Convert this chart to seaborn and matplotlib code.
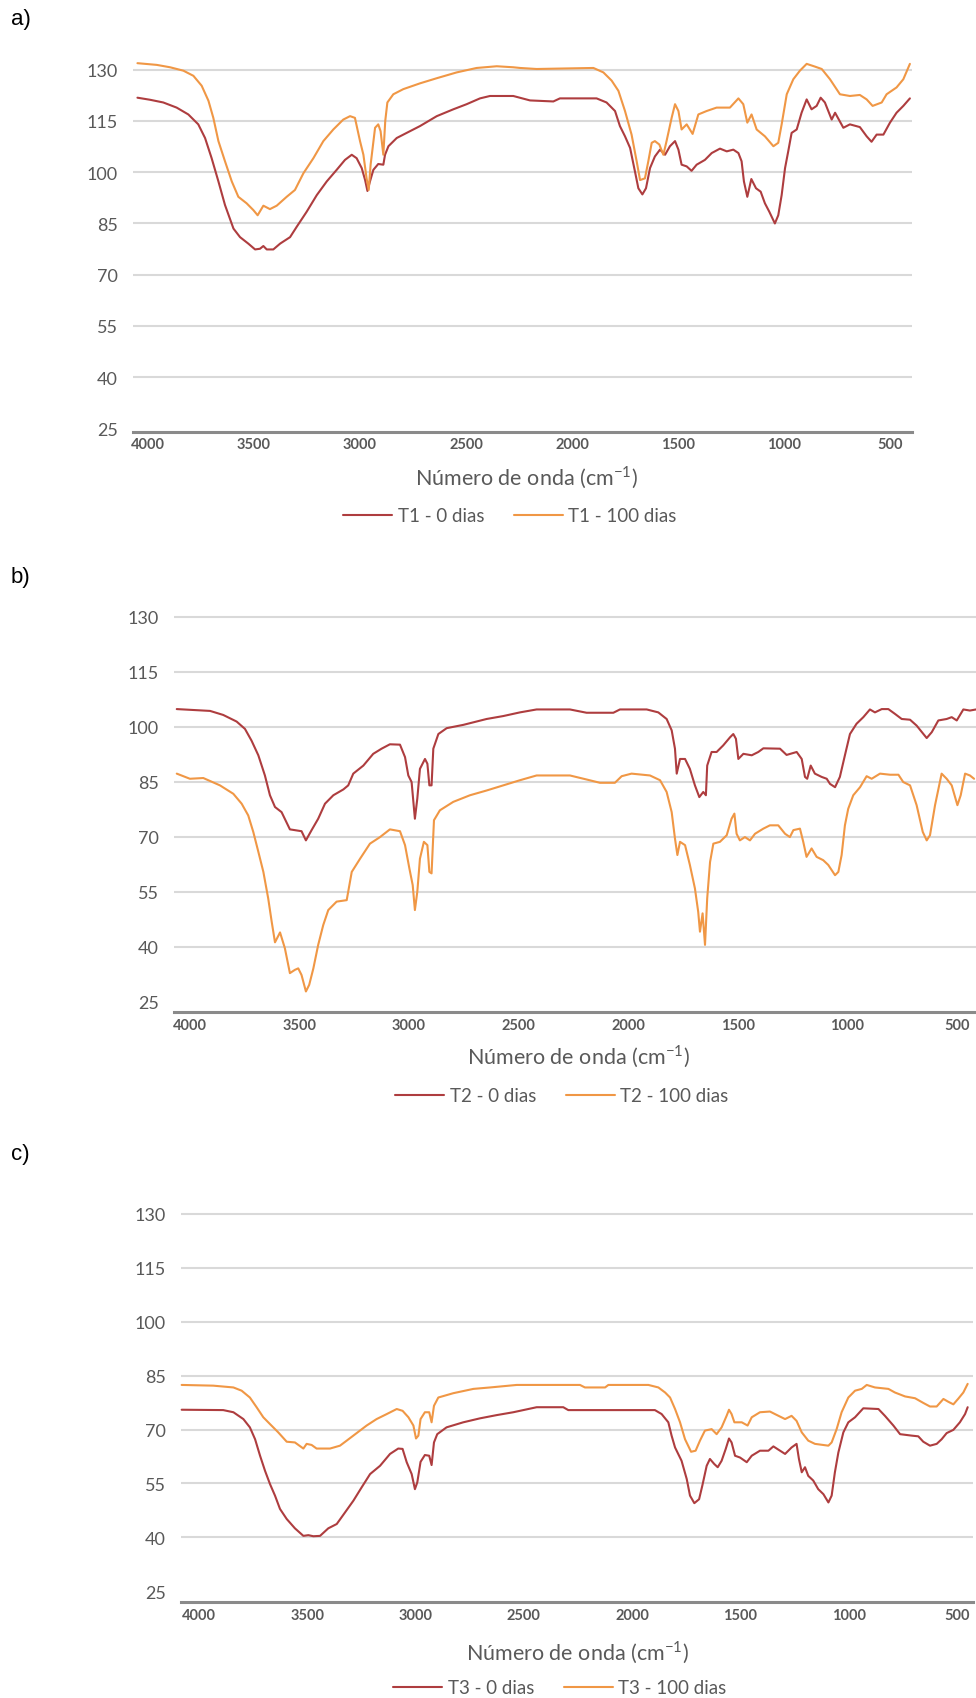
import numpy as np
import pandas as pd
import matplotlib
matplotlib.use("Agg")
import matplotlib.pyplot as plt
from matplotlib.ticker import MultipleLocator
import seaborn as sns

# ---------------- data ----------------
t1_0_x = [4050, 3991, 3928, 3865, 3810, 3763, 3731, 3700, 3668, 3637, 3597, 3566, 3527, 3495, 3472, 3456,
          3440, 3409, 3377, 3330, 3299, 3252, 3204, 3157, 3110, 3071, 3039, 3016, 2992, 2976, 2965, 2953,
          2937, 2914, 2890, 2882, 2866, 2827, 2780, 2717, 2638, 2560, 2497, 2434, 2387, 2277, 2198, 2088,
          2057, 1884, 1837, 1797, 1774, 1750, 1726, 1703, 1687, 1668, 1651, 1632, 1609, 1585, 1561, 1538,
          1514, 1498, 1483, 1459, 1436, 1412, 1373, 1341, 1302, 1270, 1239, 1215, 1200, 1189, 1173, 1154,
          1132, 1110, 1090, 1069, 1043, 1027, 1011, 995, 980, 964, 940, 917, 893, 870, 846, 827, 807, 775,
          759, 720, 689, 642, 610, 587, 563, 531, 500, 469, 437, 406]
t1_0_y = [121.8, 121.2, 120.4, 118.9, 116.9, 114.0, 110.0, 104.1, 97.3, 90.4, 83.5, 81.0, 79.1, 77.4, 77.6, 78.4,
          77.4, 77.4, 79.1, 81.0, 84.0, 88.4, 93.3, 97.3, 100.7, 103.6, 105.1, 104.1, 101.2, 97.7, 94.5, 97.3,
          100.7, 102.4, 102.2, 105.1, 107.6, 110.0, 111.5, 113.5, 116.4, 118.4, 119.9, 121.6, 122.3, 122.3, 121.0, 120.7,
          121.6, 121.6, 120.4, 117.9, 113.5, 110.5, 107.1, 100.2, 95.3, 93.5, 95.3, 101.2, 104.6, 106.6, 105.1, 107.6,
          109.1, 106.6, 102.2, 101.7, 100.4, 102.2, 103.6, 105.6, 106.9, 106.1, 106.6, 105.6, 103.2, 97.3, 92.8, 98.0,
          95.3, 94.3, 90.9, 88.4, 85.0, 87.4, 93.3, 101.2, 106.1, 111.5, 112.5, 117.4, 121.3, 118.4, 119.4, 121.8, 120.4, 115.4,
          117.4, 113.0, 114.0, 113.2, 110.5, 108.9, 111.0, 111.0, 114.5, 117.4, 119.4, 121.6]

t1_100_x = [4050, 3959, 3896, 3833, 3786, 3747, 3715, 3692, 3668, 3637, 3605, 3574, 3535, 3503, 3483, 3456,
            3425, 3393, 3346, 3307, 3267, 3220, 3173, 3126, 3079, 3047, 3024, 3000, 2984, 2969, 2959, 2950,
            2929, 2914, 2903, 2890, 2881, 2871, 2843, 2796, 2717, 2638, 2544, 2450, 2355, 2277, 2245, 2167,
            1899, 1852, 1813, 1781, 1750, 1719, 1695, 1679, 1656, 1640, 1624, 1609, 1588, 1569, 1554, 1530,
            1514, 1498, 1483, 1459, 1431, 1404, 1365, 1318, 1255, 1215, 1192, 1173, 1153, 1129, 1090, 1050,
            1027, 1011, 987, 956, 925, 893, 854, 822, 783, 736, 689, 642, 610, 582, 539, 516, 469, 437, 406]
t1_100_y = [131.9, 131.4, 130.7, 129.7, 128.2, 125.3, 120.9, 115.9, 109.1, 103.2, 97.3, 92.8, 90.9, 88.9, 87.4, 90.2,
            89.2, 90.2, 92.8, 94.8, 99.7, 104.1, 109.1, 112.5, 115.4, 116.4, 115.9, 109.1, 105.1, 98.2, 94.8, 102.2,
            113.0, 114.0, 112.0, 105.1, 115.0, 120.4, 122.8, 124.3, 126.0, 127.5, 129.2, 130.5, 131.0, 130.7, 130.5, 130.2,
            130.5, 129.2, 126.8, 123.8, 117.9, 111.0, 103.2, 97.7, 98.2, 103.2, 108.6, 109.1, 108.1, 105.1, 109.1, 115.9,
            119.9, 117.9, 112.5, 114.0, 111.2, 116.9, 117.9, 118.9, 118.9, 121.6, 119.9, 114.5, 116.9, 112.5, 110.5, 107.6,
            108.6, 114.0, 122.8, 127.2, 129.7, 131.7, 130.9, 130.2, 127.2, 122.8, 122.3, 122.6, 121.3, 119.4, 120.4, 122.8, 124.8, 127.2, 131.7]

t2_0_x = [4058, 3906, 3846, 3785, 3747, 3717, 3686, 3656, 3633, 3610, 3580, 3542, 3489, 3469, 3443, 3413,
          3382, 3344, 3298, 3276, 3253, 3207, 3162, 3124, 3086, 3040, 3017, 3002, 2987, 2972, 2961, 2949,
          2926, 2915, 2906, 2896, 2888, 2865, 2827, 2751, 2645, 2569, 2493, 2417, 2265, 2189, 2067, 2037,
          1915, 1862, 1824, 1801, 1786, 1778, 1763, 1740, 1718, 1695, 1675, 1657, 1645, 1639, 1619, 1596,
          1566, 1535, 1520, 1508, 1497, 1474, 1436, 1406, 1383, 1307, 1277, 1231, 1208, 1193, 1183, 1167,
          1148, 1117, 1094, 1079, 1056, 1034, 1011, 988, 958, 927, 897, 874, 843, 813, 783, 752, 714, 684,
          653, 638, 615, 585, 547, 524, 501, 471, 441, 413]
t2_0_y = [104.8, 104.3, 103.2, 101.4, 99.4, 96.2, 92.2, 86.7, 81.3, 78.1, 76.7, 72.0, 71.5, 69.0, 71.8, 74.9,
          79.0, 81.3, 82.9, 84.0, 87.2, 89.4, 92.6, 94.0, 95.2, 95.1, 91.7, 86.7, 84.9, 74.9, 80.4, 88.5,
          91.2, 89.9, 84.0, 84.0, 94.0, 98.0, 99.6, 100.5, 102.1, 102.9, 103.9, 104.7, 104.7, 103.8, 103.8, 104.7,
          104.7, 103.9, 102.1, 99.0, 94.0, 87.2, 91.2, 91.2, 88.5, 84.0, 80.8, 82.2, 81.3, 89.4, 93.1, 93.1,
          94.9, 97.1, 98.0, 96.7, 91.2, 92.6, 92.2, 93.1, 94.1, 94.0, 92.3, 93.1, 91.2, 86.3, 85.8, 89.4,
          87.2, 86.3, 85.8, 84.4, 83.5, 86.3, 92.2, 98.0, 100.8, 102.6, 104.7, 103.9, 104.8, 104.8, 103.5, 102.1, 101.9, 100.3,
          98.0, 96.9, 98.5, 101.7, 102.1, 102.6, 101.7, 104.7, 104.4, 104.7]

t2_100_x = [4058, 3998, 3937, 3861, 3800, 3762, 3732, 3709, 3686, 3663, 3641, 3625, 3610, 3587, 3565, 3542,
            3519, 3504, 3489, 3469, 3454, 3435, 3413, 3390, 3367, 3329, 3283, 3260, 3222, 3177, 3131, 3086,
            3040, 3017, 2997, 2982, 2972, 2961, 2949, 2931, 2915, 2906, 2896, 2885, 2858, 2797, 2721, 2645,
            2569, 2493, 2417, 2265, 2189, 2128, 2060, 2029, 1984, 1900, 1854, 1824, 1801, 1786, 1775, 1763,
            1740, 1718, 1695, 1680, 1672, 1660, 1649, 1639, 1626, 1611, 1581, 1550, 1528, 1515, 1505, 1490,
            1467, 1444, 1421, 1383, 1353, 1315, 1284, 1262, 1246, 1216, 1201, 1186, 1163, 1140, 1110, 1087,
            1056, 1041, 1026, 1011, 996, 973, 942, 912, 889, 851, 805, 767, 745, 714, 684, 656, 638, 623,
            600, 570, 547, 524, 498, 483, 463, 441, 422]
t2_100_y = [87.2, 85.8, 86.0, 84.0, 81.7, 79.0, 75.8, 71.3, 65.9, 60.4, 53.2, 46.8, 41.2, 43.9, 39.6, 32.8,
            33.7, 34.1, 32.3, 27.8, 29.6, 34.1, 40.5, 45.9, 50.0, 52.3, 52.7, 60.4, 64.0, 68.1, 69.9, 72.0,
            71.5, 67.7, 61.3, 56.8, 50.0, 55.0, 64.0, 68.6, 67.7, 60.4, 60.0, 74.5, 77.2, 79.5, 81.3, 82.6,
            84.0, 85.4, 86.7, 86.7, 85.6, 84.7, 84.7, 86.5, 87.2, 86.7, 85.4, 82.2, 76.7, 69.5, 65.0, 68.6,
            67.7, 62.3, 55.9, 49.5, 44.1, 49.1, 40.5, 53.2, 63.1, 68.1, 68.6, 70.4, 74.9, 76.3, 70.8, 69.0,
            69.9, 69.0, 70.8, 72.2, 73.1, 73.1, 70.8, 69.9, 71.8, 72.2, 68.6, 64.5, 66.8, 64.5, 63.6, 62.3,
            59.5, 60.4, 65.0, 73.1, 77.6, 81.3, 83.5, 86.5, 85.8, 87.2, 86.9, 86.9, 84.9, 84.0, 78.6, 71.3, 69.0, 70.4,
            78.6, 87.2, 85.8, 84.0, 78.6, 81.3, 87.2, 86.7, 85.8]

t3_0_x = [4080, 3888, 3841, 3795, 3765, 3741, 3718, 3695, 3672, 3649, 3626, 3595, 3557, 3518, 3495, 3472,
          3441, 3403, 3364, 3326, 3287, 3249, 3210, 3164, 3118, 3080, 3060, 3041, 3018, 3003, 2992, 2977,
          2957, 2937, 2926, 2915, 2900, 2857, 2780, 2703, 2626, 2549, 2441, 2318, 2295, 2264, 1895, 1864,
          1833, 1818, 1802, 1772, 1748, 1733, 1713, 1691, 1676, 1656, 1641, 1621, 1605, 1587, 1568, 1553,
          1541, 1525, 1502, 1471, 1448, 1410, 1371, 1348, 1325, 1294, 1264, 1241, 1230, 1217, 1202, 1187,
          1164, 1141, 1117, 1094, 1079, 1064, 1048, 1025, 1002, 971, 933, 863, 833, 794, 763, 710, 679,
          656, 625, 594, 571, 548, 517, 487, 463, 451]
t3_0_y = [75.5, 75.4, 74.8, 72.9, 70.6, 67.3, 62.7, 58.5, 54.8, 51.6, 47.9, 45.1, 42.5, 40.4, 40.6, 40.3,
          40.4, 42.5, 43.7, 46.9, 50.2, 53.9, 57.6, 59.9, 63.2, 64.7, 64.6, 60.9, 57.6, 53.4, 55.3, 61.0,
          62.9, 62.7, 60.1, 66.4, 68.7, 70.6, 72.0, 73.1, 74.0, 74.8, 76.2, 76.2, 75.4, 75.4, 75.4, 74.3,
          72.0, 68.3, 65.0, 61.3, 56.2, 51.6, 49.5, 50.6, 54.4, 59.9, 61.8, 60.4, 59.5, 61.3, 64.6, 67.5,
          66.4, 62.7, 62.2, 60.9, 62.7, 64.1, 64.1, 65.3, 64.4, 63.2, 65.0, 66.0, 61.8, 58.1, 59.5, 57.1,
          55.8, 53.4, 52.0, 49.7, 51.6, 58.1, 63.6, 69.2, 72.0, 73.4, 75.9, 75.7, 73.8, 71.1, 68.7, 68.3, 68.1,
          66.6, 65.5, 66.0, 67.3, 69.0, 69.9, 72.0, 74.3, 76.2]

t3_100_x = [4080, 3934, 3841, 3803, 3765, 3734, 3703, 3672, 3634, 3595, 3557, 3518, 3503, 3480, 3457, 3395,
            3349, 3318, 3272, 3226, 3180, 3133, 3087, 3060, 3033, 3010, 2998, 2987, 2977, 2957, 2937, 2926,
            2915, 2895, 2826, 2733, 2656, 2533, 2241, 2218, 2125, 2110, 1925, 1879, 1848, 1825, 1802, 1779,
            1756, 1728, 1707, 1687, 1664, 1633, 1610, 1587, 1564, 1553, 1541, 1528, 1494, 1467, 1448, 1410,
            1364, 1341, 1294, 1264, 1241, 1217, 1187, 1156, 1094, 1079, 1056, 1033, 1002, 971, 940, 917, 879,
            817, 787, 740, 694, 656, 625, 594, 563, 540, 517, 494, 471, 451]
t3_100_y = [82.4, 82.2, 81.7, 80.8, 78.9, 76.2, 73.4, 71.5, 69.2, 66.6, 66.4, 64.7, 66.0, 65.7, 64.7, 64.7,
            65.5, 66.9, 69.0, 71.1, 72.9, 74.3, 75.7, 75.2, 73.4, 71.1, 67.5, 68.3, 72.9, 74.8, 74.8, 72.0,
            76.6, 78.9, 80.1, 81.3, 81.7, 82.4, 82.4, 81.7, 81.7, 82.4, 82.4, 81.7, 80.3, 78.9, 75.7, 72.0,
            67.3, 63.8, 64.1, 66.9, 69.7, 70.1, 68.7, 70.6, 73.8, 75.5, 74.3, 72.0, 72.0, 71.1, 73.4, 74.8,
            75.0, 74.3, 72.9, 73.8, 72.4, 69.2, 66.9, 66.0, 65.5, 66.4, 70.1, 74.8, 78.9, 80.8, 81.3, 82.4, 81.7,
            81.3, 80.3, 79.2, 78.7, 77.4, 76.4, 76.4, 78.5, 77.7, 77.0, 78.6, 80.3, 82.7]

y_ticks = [25, 40, 55, 70, 85, 100, 115, 130]
x_ticks = [4000, 3500, 3000, 2500, 2000, 1500, 1000, 500]
panel_labels = ["a)", "b)", "c)"]
series_names = [("T1 - 0 dias", "T1 - 100 dias"),
                ("T2 - 0 dias", "T2 - 100 dias"),
                ("T3 - 0 dias", "T3 - 100 dias")]
x_title = "Número de onda (cm$^{\\mathregular{-1}}$)"

# ---------------- styling ----------------
W, H = 976, 1699
sns.set_theme(style="white")
plt.rcParams['font.family'] = ['Lato', 'DejaVu Sans']
plt.rcParams['mathtext.fontset'] = 'custom'
plt.rcParams['mathtext.rm'] = 'Lato'

DARK = "#AE3D3F"
ORANGE = "#F09745"
GRID = "#D9D9D9"
AXIS = "#8A8A8A"
TXT = "#595959"

fig = plt.figure(figsize=(W / 100, H / 100), dpi=100)

# layout in pixels: left, right, top, bottom, xlim, ylim, label pos, xlabel center, legend center
layouts = [
    dict(box=(133.2, 911.6, 57.0, 432.6), xlim=(4070, 398), ylim=(24.1, 134),
         lab=(11, 20), xlab=(526, 478), leg=(510, 517)),
    dict(box=(173.9, 978.9, 603.0, 1013.0), xlim=(4071, 400), ylim=(22.2, 134),
         lab=(11, 577), xlab=(578, 1057), leg=(562, 1097)),
    dict(box=(181.0, 973.3, 1200.5, 1603.0), xlim=(4083, 425), ylim=(22.0, 134),
         lab=(11, 1155), xlab=(577, 1653), leg=(560, 1689)),
]

data = [
    (t1_0_x, t1_0_y, t1_100_x, t1_100_y),
    (t2_0_x, t2_0_y, t2_100_x, t2_100_y),
    (t3_0_x, t3_0_y, t3_100_x, t3_100_y),
]

for i, (lay, d) in enumerate(zip(layouts, data)):
    l, r, t, b = lay["box"]
    ax = fig.add_axes([l / W, 1 - b / H, (r - l) / W, (b - t) / H])
    x0, y0, x1, y1 = d
    n0, n1 = series_names[i]
    df = pd.concat([
        pd.DataFrame({"x": x0, "y": y0, "s": n0}),
        pd.DataFrame({"x": x1, "y": y1, "s": n1}),
    ])
    sns.lineplot(data=df, x="x", y="y", hue="s", palette=[DARK, ORANGE],
                 estimator=None, sort=False, linewidth=1.5, ax=ax, legend=True)
    ax.set_xlim(*lay["xlim"])
    ax.set_ylim(*lay["ylim"])
    ax.set_yticks(y_ticks)
    ax.set_xticks(x_ticks)
    ax.xaxis.set_minor_locator(MultipleLocator(100))
    ax.grid(axis="y", color=GRID, linewidth=1.5)
    ax.grid(axis="x", visible=False)
    ax.get_ygridlines()[0].set_visible(False)
    ax.set_axisbelow(True)
    for s in ["top", "right", "left"]:
        ax.spines[s].set_visible(False)
    ax.spines["bottom"].set_color(AXIS)
    ax.spines["bottom"].set_linewidth(2.2)
    ax.tick_params(axis="y", length=0, pad=11, labelsize=13, labelcolor=TXT)
    ax.tick_params(axis="x", which="major", direction="in", length=8, width=1.2,
                   color=AXIS, pad=4, labelsize=10.5, labelcolor=TXT)
    ax.tick_params(axis="x", which="minor", direction="in", length=2.5, width=1.0, color=AXIS)
    for lbl in ax.get_xticklabels():
        lbl.set_fontweight("bold")
    ax.set_ylabel("")
    ax.set_xlabel(x_title, fontsize=15.5, color=TXT)
    ax.xaxis.set_label_coords((lay["xlab"][0] - l) / (r - l), (b - lay["xlab"][1]) / (b - t))
    ax.xaxis.label.set_va("center")
    ax.set_clip_on(False)
    for ln in ax.lines:
        ln.set_clip_on(False)
    leg = ax.legend(loc="center", bbox_to_anchor=(lay["leg"][0] / W, 1 - lay["leg"][1] / H),
                    bbox_transform=fig.transFigure, ncol=2, frameon=False, fontsize=13.5,
                    handlelength=2.6, handletextpad=0.3, columnspacing=1.6, title=None)
    for txt in leg.get_texts():
        txt.set_color(TXT)
    for h in leg.get_lines():
        h.set_linewidth(1.5)
    fig.text(lay["lab"][0] / W, 1 - lay["lab"][1] / H, panel_labels[i],
             fontsize=16, family=["Liberation Sans", "DejaVu Sans"], color="black",
             ha="left", va="center")

fig.savefig("out.png", dpi=100)
